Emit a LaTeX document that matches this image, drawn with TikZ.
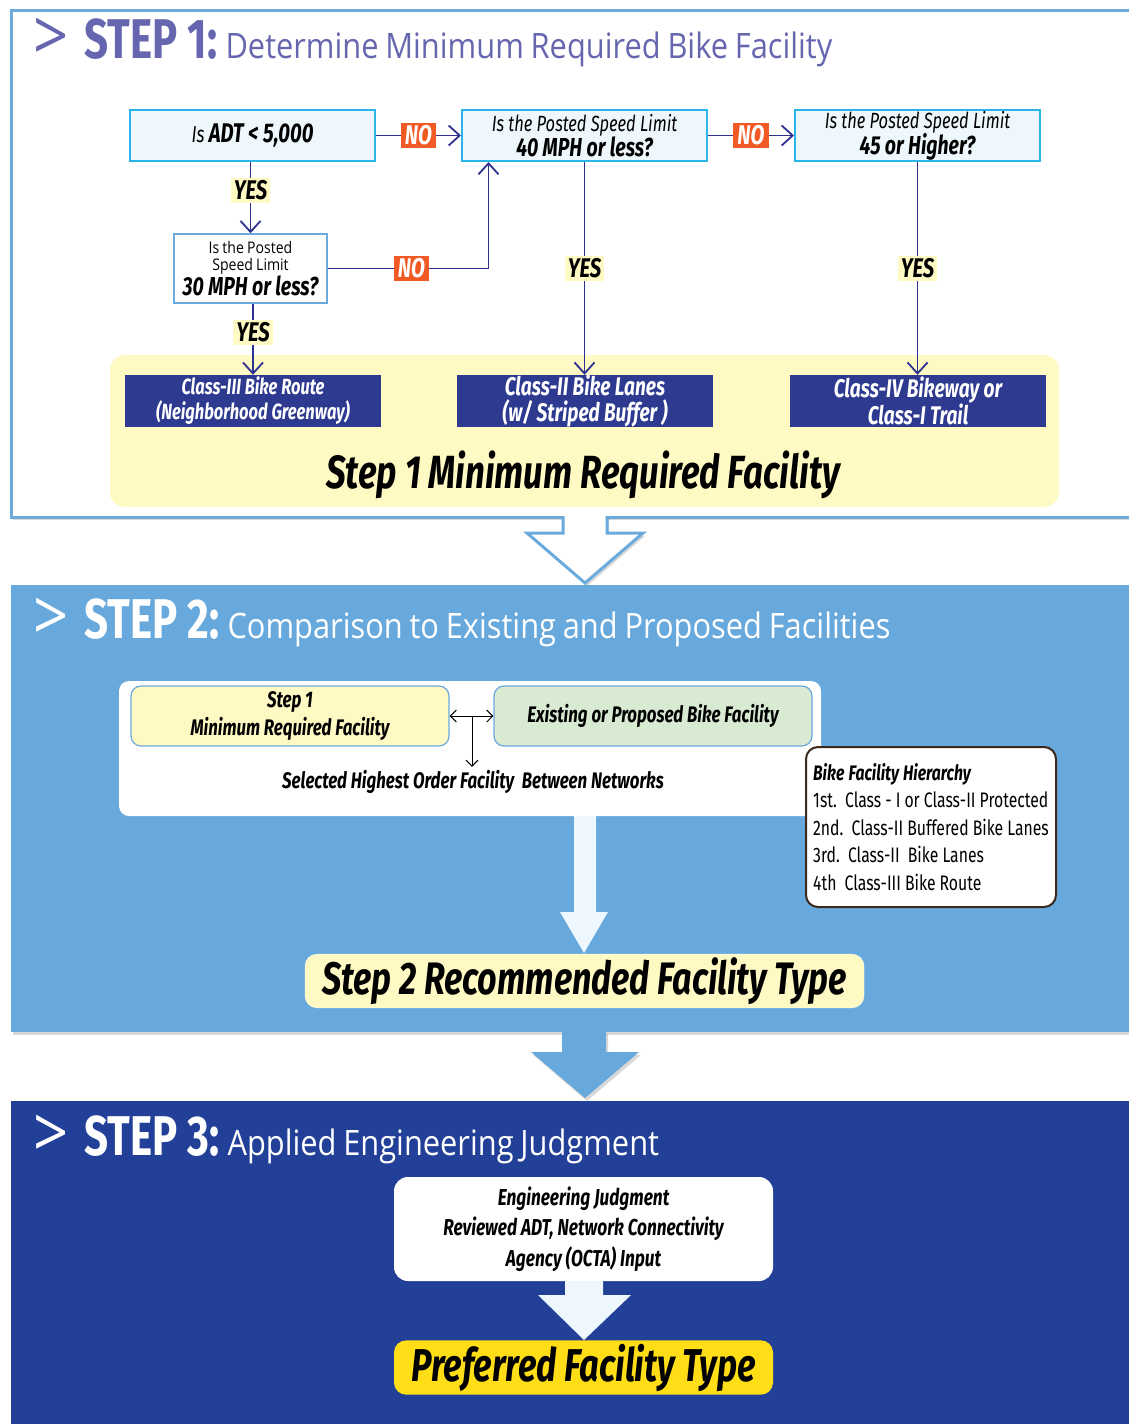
\documentclass[tikz,border=0pt]{standalone}
\usepackage{fontspec}
\setmainfont{Open Sans}
\newfontfamily\condf[FakeStretch=0.75]{Fira Sans}
\newfontfamily\headf[FakeStretch=0.88,WordSpace=0.85]{Open Sans}
\usetikzlibrary{arrows.meta,shadows}
\definecolor{stepone}{RGB}{102,102,176}
\definecolor{paleblue}{RGB}{106,170,220}
\definecolor{steptwo}{RGB}{103,169,220}
\definecolor{stepthree}{RGB}{34,64,152}
\definecolor{cyanline}{RGB}{41,181,232}
\definecolor{qfill}{RGB}{238,247,251}
\definecolor{linkblue}{RGB}{46,49,146}
\definecolor{noorange}{RGB}{241,90,36}
\definecolor{paleyellow}{RGB}{255,249,196}
\definecolor{classblue}{RGB}{46,58,143}
\definecolor{palegreen}{RGB}{217,234,211}
\definecolor{brownline}{RGB}{60,42,30}
\definecolor{goldyellow}{RGB}{255,221,23}
\definecolor{arrowwhite}{RGB}{238,247,253}
\newcommand{\fs}[1]{\fontsize{#1}{#1}\selectfont}
\newcommand{\hierfont}{\condf\fontsize{21}{21}\selectfont\spaceskip=4.1pt\relax}
\begin{document}
\begin{tikzpicture}[
		x=1pt, y=-1pt,
		line join=miter
	]
	\tikzset{
		qnode/.style = {draw=cyanline, line width=2pt, fill=qfill, minimum width=245pt, minimum height=51pt, inner sep=0pt, align=center, font=\condf\itshape\fs{22}},
		snode/.style = {draw=paleblue, line width=1.5pt, fill=white, minimum width=153pt, minimum height=69pt, inner sep=0pt, align=center, font=\headf\fontsize{16}{17.5}\selectfont},
		cnode/.style = {fill=classblue, text=white, minimum width=256pt, minimum height=52pt, inner sep=0pt, align=center, font=\condf\bfseries\itshape\fs{22}},
		link/.style = {draw=linkblue, line width=1.8pt, -{Straight Barb[length=11pt,width=20pt]}},
		nolab/.style = {fill=noorange, text=white, inner xsep=4pt, inner ysep=1pt, minimum height=25pt, font=\condf\bfseries\itshape\fs{27}},
		yeslab/.style = {fill=paleyellow, text=black, inner xsep=3pt, inner ysep=1pt, minimum height=25pt, font=\condf\bfseries\itshape\fs{27}},
		hgt/.style = {anchor=base west, font=\headf\fs{70}},
		hstep/.style = {anchor=base west, font=\condf\bfseries\fs{56}},
		htitle/.style = {anchor=base west, font=\headf\fs{35}},
		boxtxt/.style = {align=center, font=\condf\bfseries\itshape\fs{22.5}},
		panelshadow/.style = {drop shadow={opacity=0.3, shadow xshift=2pt, shadow yshift=-3pt}},
	}
	\useasboundingbox (0,0) rectangle (1128,1424);
	\fill[white] (0,0) rectangle (1128,1424);
	%
	% step 1 panel
	\fill[white, panelshadow] (11,10) rectangle (1145,517);
	\draw[paleblue, line width=3pt] (11,10) rectangle (1145,517);
	\node[hgt, text=stepone] (gt1) at (30,60) {>};
	\node[hstep, text=stepone] (st1) at (81,58) {STEP 1:};
	\node[htitle, text=stepone] (tt1) at (222,58) {Determine Minimum Required Bike Facility};
	%
	\fill[paleyellow, rounded corners=15pt] (110,355) rectangle (1059,507);
	\node[qnode] at (252.5,135.5) (adt) {{\fs{23}Is} {\bfseries\fs{27}ADT < 5,000}};
	\node[qnode] at (584.5,135.5) (s40) {Is the Posted Speed Limit\\[-1pt]{\bfseries\fs{26}40 MPH or less?}};
	\node[qnode] at (917.5,135.5) (s45) {Is the Posted Speed Limit\\[-1pt]{\bfseries\fs{26}45 or Higher?}};
	\node[snode] at (250.5,268.5) (s30) {Is the Posted\\Speed Limit\\{\condf\bfseries\itshape\fs{26}30 MPH or less?}};
	\node[cnode] at (253,401) (c3) {Class-III Bike Route\\[3pt](Neighborhood Greenway)};
	\node[cnode, font=\condf\bfseries\itshape\fs{25.5}] at (585,401) (c2) {Class-II Bike Lanes\\[0pt](w/ Striped Buffer )};
	\node[cnode, font=\condf\bfseries\itshape\fs{25.5}] at (918,401) (c4) {Class-IV Bikeway or\\[0pt]Class-I Trail};
	\node[font=\condf\bfseries\itshape\fs{46.5}] at (583,475) (res1) {Step 1 Minimum Required Facility};
	%
	\draw[link] (adt) -- node[nolab] {NO} (s40);
	\draw[link] (s40) -- node[nolab] {NO} (s45);
	\draw[link] (adt.south -| s30.north) -- node[yeslab, pos=0.4] {YES} (s30);
	\draw[link] (s30.east) -| node[nolab, pos=0.26] {NO} ([xshift=-96pt]s40.south);
	\draw[link] (s30.south -| c3.north) -- node[yeslab, pos=0.4] {YES} (c3);
	\draw[link] (s40) -- node[yeslab] {YES} (s40.south |- c2.north);
	\draw[link] (s45) -- node[yeslab] {YES} (s45.south |- c4.north);
	%
	% step 2 panel
	\fill[steptwo, panelshadow] (11,585) rectangle (1145,1032);
	\draw[paleblue, line width=3pt, fill=white, panelshadow] (563,516) -- (563,533) -- (527,533) -- (585,583) -- (643,533) -- (607,533) -- (607,516);
	\node[hgt, text=white] (gt2) at (30,640) {>};
	\node[hstep, text=white] (st2) at (81,638) {STEP 2:};
	\node[htitle, text=white] (tt2) at (224,638) {Comparison to Existing and Proposed Facilities};
	%
	\fill[white, rounded corners=10pt] (119,681) rectangle (821,816);
	\node[draw=paleblue, line width=1.2pt, fill=paleyellow, rounded corners=10pt, minimum width=318pt, minimum height=60pt, boxtxt] at (290,716) (s1box) {Step 1\\[4pt]Minimum Required Facility};
	\node[draw=paleblue, line width=1.2pt, fill=palegreen, rounded corners=10pt, minimum width=318pt, minimum height=60pt, boxtxt] at (653,716) (exbox) {Existing or Proposed Bike Facility};
	\node[boxtxt] at (473,782) (sel) {Selected Highest Order Facility\ \ Between Networks};
	\coordinate (mid) at (472,716);
	\draw[black, line width=1pt, {Straight Barb[length=6pt,width=12pt]}-{Straight Barb[length=6pt,width=12pt]}] (s1box) -- (exbox);
	\draw[black, line width=1pt, -{Straight Barb[length=6pt,width=12pt]}] (mid) -- (mid |- sel.north);
	%
	\fill[arrowwhite] (574,816) -- (574,912) -- (560,912) -- (584,953) -- (608,912) -- (596,912) -- (596,816) -- cycle;
	\node[draw=brownline, line width=2pt, fill=white, rounded corners=12pt, minimum width=250pt, minimum height=160pt, inner xsep=6pt, inner ysep=8pt, align=left, font=\hierfont] at (931,827) (hier) {%
		{\bfseries\itshape Bike Facility Hierarchy}\\[6.5pt]
		1st.\ \ Class - I or Class-II Protected\\[6.5pt]
		2nd.\ \ Class-II Buffered Bike Lanes\\[6.5pt]
		3rd.\ \ Class-II\ \ Bike Lanes\\[6.5pt]
		4th\ \ Class-III Bike Route};
	\node[fill=paleyellow, draw=white!60!paleyellow, rounded corners=12pt, minimum width=559pt, minimum height=50pt, font=\condf\bfseries\itshape\fs{45.5}] at (584.5,981) (res2) {Step 2 Recommended Facility Type};
	%
	% step 3 panel
	\fill[stepthree] (11,1101) rectangle (1145,1440);
	\fill[steptwo, panelshadow] (562,1031) -- (562,1052) -- (531,1052) -- (585,1098) -- (639,1052) -- (606,1052) -- (606,1031) -- cycle;
	\node[hgt, text=white] (gt3) at (30,1157) {>};
	\node[hstep, text=white] (st3) at (81,1155) {STEP 3:};
	\node[htitle, text=white] (tt3) at (224,1155) {Applied Engineering Judgment};
	%
	\node[fill=white, rounded corners=14pt, minimum width=379pt, minimum height=104pt, boxtxt, font=\condf\bfseries\itshape\fs{23}] at (583.5,1229) (ej) {Engineering Judgment\\[5pt]Reviewed ADT, Network Connectivity\\[5pt]Agency (OCTA) Input};
	\fill[arrowwhite] (565,1281) -- (565,1295) -- (538,1295) -- (584,1340) -- (631,1295) -- (603,1295) -- (603,1281) -- cycle;
	\node[fill=goldyellow, rounded corners=12pt, minimum width=379pt, minimum height=51pt, font=\condf\bfseries\itshape\fs{46}] at (583.5,1367.5) (pref) {Preferred Facility Type};
\end{tikzpicture}
\end{document}
